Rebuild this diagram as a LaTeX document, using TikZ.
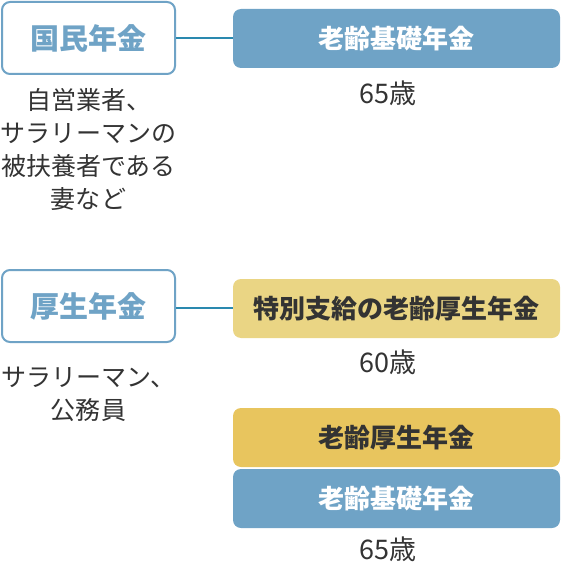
\documentclass[tikz,border=0pt]{standalone}
\usepackage{fontspec}
\usepackage{xcolor}
\usepackage{tikz}
\usetikzlibrary{positioning}
\setmainfont{Noto Sans CJK JP}
\newfontfamily\jpfont{Noto Sans CJK JP}
\definecolor{PensionBlue}{HTML}{6FA3C6}
\definecolor{PensionTeal}{HTML}{2A89AF}
\definecolor{PensionPale}{HTML}{EAD584}
\definecolor{PensionGold}{HTML}{E8C55E}
\definecolor{PensionText}{HTML}{333333}

\begin{document}
\begin{tikzpicture}[
    x=1pt, y=-1pt,
    kind/.style={draw=PensionBlue, line width=2pt, fill=white, rounded corners=8pt,
      minimum width=173pt, minimum height=72pt, inner sep=0pt,
      font=\jpfont\bfseries\fontsize{29}{32}\selectfont, text=PensionBlue},
    benefit/.style={rounded corners=8pt, minimum width=327pt, minimum height=59pt,
      inner sep=0pt, font=\jpfont\bfseries\fontsize{26}{30}\selectfont},
    basic/.style={benefit, fill=PensionBlue, text=white},
    early/.style={benefit, fill=PensionPale, text=PensionText},
    welfare/.style={benefit, fill=PensionGold, text=PensionText},
    note/.style={align=center, inner sep=0pt, text=PensionText,
      font=\jpfont\fontsize{25}{33}\selectfont},
    age/.style={note, font=\jpfont\fontsize{27}{30}\selectfont},
    link/.style={line width=1.2pt, draw=PensionTeal}
  ]
    \useasboundingbox (0,0) rectangle (560,564);
    % 国民年金
    \node[kind] (kokumin) at (88.5,38) {国民年金};
    \node[basic] (kiso1) at (396.5,38.5) {老齢基礎年金};
    \node[age] (age65a) at (388,93) {65歳};
    \node[note] (kokuminnote) at (88.5,149.5) {自営業者、\\サラリーマンの\\被扶養者である\\妻など};
    % 厚生年金
    \node[kind] (kosei) at (88.5,306) {厚生年金};
    \node[early] (tokubetsu) at (396.5,308.5) {特別支給の老齢厚生年金};
    \node[age] (age60) at (388,362) {60歳};
    \node[welfare] (koseiold) at (396.5,437.5) {老齢厚生年金};
    \node[basic] (kiso2) at (396.5,498.5) {老齢基礎年金};
    \node[age] (age65b) at (388,549) {65歳};
    \node[note] (koseinote) at (88.5,394) {サラリーマン、\\公務員};
    \draw[link] (kokumin.east) -- (kokumin.east -| kiso1.west);
    \draw[link] ([yshift=-2pt]kosei.east) -- ([yshift=-2pt]kosei.east -| tokubetsu.west);
  \end{tikzpicture}
\end{document}
